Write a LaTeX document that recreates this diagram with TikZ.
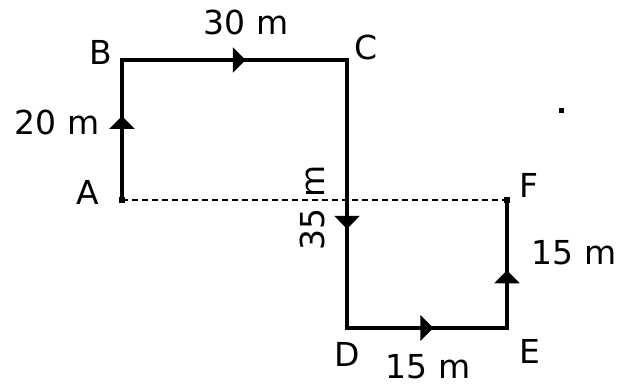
\documentclass[tikz,border=0pt]{standalone}
\usepackage{fontspec}
\setmainfont{DejaVu Sans}
\usetikzlibrary{arrows.meta,decorations.markings}
\tikzset{
  seg/.style={line width=3.2pt, line cap=rect},
  markat/.style={postaction={decorate,decoration={markings,mark=at position #1 with {\arrow{Triangle[width=25pt,length=13pt]}}}}},
  lbl/.style={font=\fontsize{33}{33}\selectfont, inner sep=0pt},
  dot/.style={fill=black, inner sep=0pt, minimum size=6pt, rectangle}
}
\begin{document}
\begin{tikzpicture}[x=1pt,y=-1pt]
\useasboundingbox (0,0) rectangle (625,387);
\coordinate (A) at (122,200);
\coordinate (B) at (122,60);
\coordinate (C) at (347,60);
\coordinate (D) at (347,328);
\coordinate (E) at (507,328);
\coordinate (F) at (507,200);
\draw[line width=2.2pt, dash pattern=on 6pt off 4pt] (A) -- (F);
\draw[seg, markat=0.6] (A) -- (B);
\draw[seg, markat=0.55] (B) -- (C);
\draw[seg, markat=0.63] (C) -- (D);
\draw[seg, markat=0.54] (D) -- (E);
\draw[seg, markat=0.45] (E) -- (F);
\node[dot] (dA) at (A) {};
\node[dot] (dF) at (F) {};
\node[dot, minimum size=5pt] (stray) at (561,111) {};
\node[lbl] (lA) at (88,192) {A};
\node[lbl] (lB) at (101,52) {B};
\node[lbl] (lC) at (366,47) {C};
\node[lbl] (lD) at (347,354) {D};
\node[lbl] (lE) at (530,351) {E};
\node[lbl] (lF) at (529,185) {F};
\node[lbl] (l30) at (246,22) {30 m};
\node[lbl] (l20) at (57,122) {20 m};
\node[lbl, rotate=90] (l35) at (312,208) {35 m};
\node[lbl] (l15a) at (574,253) {15 m};
\node[lbl] (l15b) at (428,367) {15 m};
\end{tikzpicture}
\end{document}
